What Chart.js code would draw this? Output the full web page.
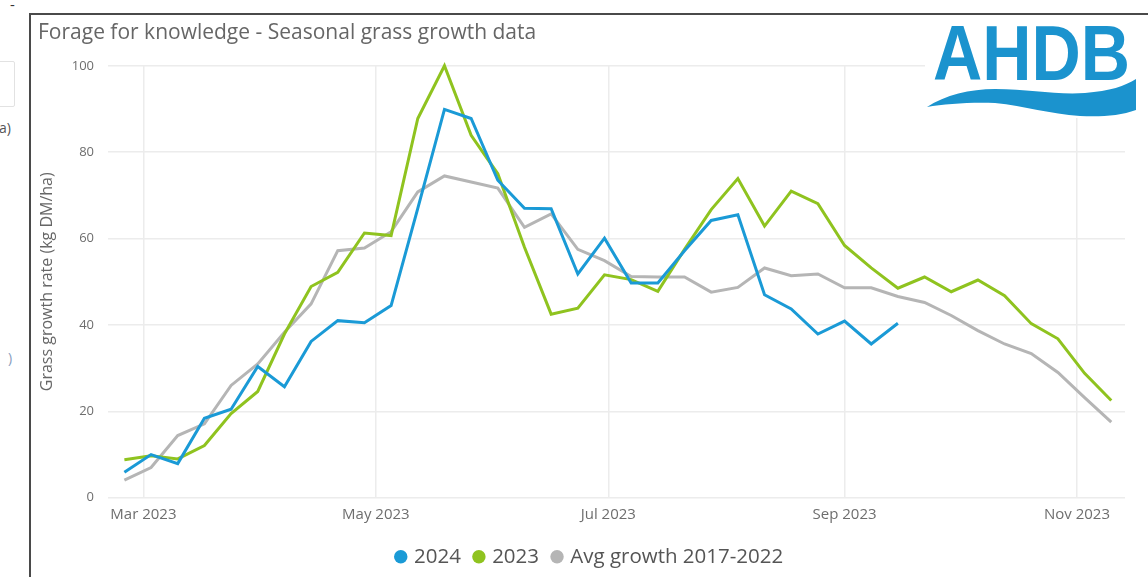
<!doctype html>
<html lang="en">
<head>
<meta charset="utf-8">
<title>Forage for knowledge - Seasonal grass growth data</title>
<style>
  * { margin: 0; padding: 0; }
  body {
    width: 1148px;
    height: 577px;
    overflow: hidden;
    position: relative;
    background: #fff;
    font-family: 'Open Sans', sans-serif;
  }
  .frame {
    position: absolute;
    left: 29px; top: 13px; right: -4px; bottom: -4px;
    border-top: 2px solid #4a4a4a;
    border-left: 2px solid #4a4a4a;
  }
  .chartBox {
    position: absolute;
    left: 31px; top: 15px;
    width: 1117px; height: 562px;
  }
  .logo {
    position: absolute;
    left: 925px; top: 16px;
    width: 221px; height: 102px;
    background: #fff;
  }
  /* bits of the neighbouring panel that peek in on the left */
  .side { position: absolute; color: #555; font-size: 14px; }
  .sideBox {
    position: absolute;
    left: -12px; top: 61px;
    width: 25px; height: 44px;
    border: 1px solid #e2e2e2;
    border-radius: 2px;
  }
</style>
</head>
<body>
  <div class="side" style="left:10px; top:-6px; font-size:15px; color:#333;">-</div>
  <div class="sideBox"></div>
  <div class="side" style="left:-1px; top:118px;">a)</div>
  <div class="side" style="left:8px; top:348px; color:#8a9dbd;">)</div>

  <div class="frame"></div>
  <div class="chartBox"><canvas id="grassChart"></canvas></div>

  <svg class="logo" viewBox="0 0 221 102" xmlns="http://www.w3.org/2000/svg">
    <text x="8" y="64" font-family="Liberation Sans, Arial, sans-serif" font-weight="bold" font-size="77"
          fill="#1b93ce" textLength="197" lengthAdjust="spacingAndGlyphs">AHDB</text>
    <path fill="#1b93ce" d="M2,91 C20,79 45,73 70,73 C105,73 130,79 160,77 C185,75 200,70 211,63
             L211,94 C195,100 175,101 155,100 C125,98 100,90 70,87 C45,86 20,88 2,91 Z"/>
  </svg>

  <script src="https://cdn.jsdelivr.net/npm/chart.js/dist/chart.umd.min.js"></script>
  <script>
    // weekly grass growth, kg DM/ha/day, one value per week from firstWeek
    const firstWeek = '2023-02-24';
    const seriesNames = ['2024', '2023', 'Avg growth 2017-2022'];
    const seriesColors = ['#1a9ad6', '#8fc31f', '#b5b5b5'];

    const growth2024 = [5.9, 10.0, 7.9, 18.4, 20.5, 30.4, 25.7, 36.2, 41.0, 40.5,
                        44.5, 67.0, 89.9, 87.8, 73.5, 67.0, 66.9, 51.8, 60.1, 49.7,
                        49.7, 57.2, 64.2, 65.5, 47.0, 43.7, 37.9, 40.9, 35.6, 40.4];
    const growth2023 = [8.8, 9.7, 9.0, 12.1, 19.5, 24.6, 37.9, 48.9, 52.2, 61.3,
                        60.7, 87.8, 100.0, 83.9, 75.0, 58.0, 42.5, 43.9, 51.6, 50.5,
                        47.8, 57.5, 66.7, 73.9, 62.9, 71.0, 68.1, 58.4, 53.2, 48.5,
                        51.1, 47.7, 50.4, 46.8, 40.3, 36.8, 28.8, 22.5];
    const growthAvg = [4.1, 7.0, 14.4, 17.1, 26.0, 31.0, 38.3, 44.9, 57.2, 57.8,
                       61.6, 70.8, 74.5, 73.1, 71.7, 62.6, 65.7, 57.5, 54.9, 51.2,
                       51.1, 51.1, 47.6, 48.7, 53.2, 51.4, 51.8, 48.6, 48.6, 46.6,
                       45.2, 42.2, 38.7, 35.6, 33.4, 29.0, 23.2, 17.5];

    const monthTicks = ['2023-03-01', '2023-05-01', '2023-07-01', '2023-09-01', '2023-11-01'];
    const monthLabels = ['Mar 2023', 'May 2023', 'Jul 2023', 'Sep 2023', 'Nov 2023'];

    // x axis runs in days counted from 1 Mar 2023 (no date adapter needed)
    const dayOf = s => (Date.parse(s) - Date.parse('2023-03-01')) / 86400000;
    const weekPoints = values => values.map((v, i) => ({ x: dayOf(firstWeek) + 7 * i, y: v }));

    const tickColor = '#6e6e6e';
    const gridColor = '#ececec';

    const data = {
      datasets: [growth2024, growth2023, growthAvg].map((values, i) => ({
        label: seriesNames[i],
        data: weekPoints(values),
        borderColor: seriesColors[i],
        backgroundColor: seriesColors[i],
        borderWidth: 3,
        pointRadius: 0,
        tension: 0,
      }))
    };

    // nudge the legend row a little to the right of the plot centre
    const legendShift = {
      id: 'legendShift',
      afterLayout(chart) {
        chart.legend.left += 9;
        chart.legend.right += 9;
      }
    };

    const config = {
      type: 'line',
      data,
      options: {
        responsive: true,
        maintainAspectRatio: false,
        animation: false,
        clip: false,
        layout: {
          padding: { left: 7, right: 23, top: 0, bottom: 0 }
        },
        scales: {
          x: {
            type: 'linear',
            min: -9.3,
            max: 257.6,
            afterBuildTicks: scale => {
              scale.ticks = monthTicks.map(d => ({ value: dayOf(d) }));
            },
            afterFit: scale => { scale.height = 33.75; },
            ticks: {
              padding: 8,
              color: tickColor,
              font: { family: 'Open Sans', size: 15 },
              maxRotation: 0,
              callback: (value, index) => monthLabels[index],
            },
            grid: { color: gridColor, lineWidth: 1.5, drawTicks: false },
            border: { display: false },
          },
          y: {
            min: 0,
            max: 100,
            afterFit: scale => { scale.width = 70; },
            ticks: {
              stepSize: 20,
              padding: 14,
              color: tickColor,
              font: { family: 'Open Sans', size: 13 },
            },
            grid: { color: gridColor, lineWidth: 1.5, drawTicks: false },
            border: { display: false },
            title: {
              display: true,
              text: 'Grass growth rate (kg DM/ha)',
              color: '#666',
              font: { family: 'Open Sans', size: 16 },
              padding: 0,
            }
          }
        },
        plugins: {
          title: {
            display: true,
            text: 'Forage for knowledge - Seasonal grass growth data',
            align: 'start',
            color: '#666',
            font: { family: 'Open Sans', size: 21, weight: 'normal' },
            padding: { top: 5, bottom: 20.6 },
          },
          legend: {
            position: 'bottom',
            labels: {
              usePointStyle: true,
              pointStyle: 'circle',
              boxWidth: 6,
              boxHeight: 9.5,
              padding: 15,
              color: '#555',
              font: { family: 'Open Sans', size: 20.5 },
              // filled dots only, no outline
              generateLabels: chart =>
                Chart.defaults.plugins.legend.labels.generateLabels(chart)
                  .map(item => ({ ...item, lineWidth: 0 })),
            }
          },
          tooltip: { enabled: false }
        }
      },
      plugins: [legendShift]
    };

    const grassChart = new Chart(document.getElementById('grassChart'), config);
  </script>
</body>
</html>
